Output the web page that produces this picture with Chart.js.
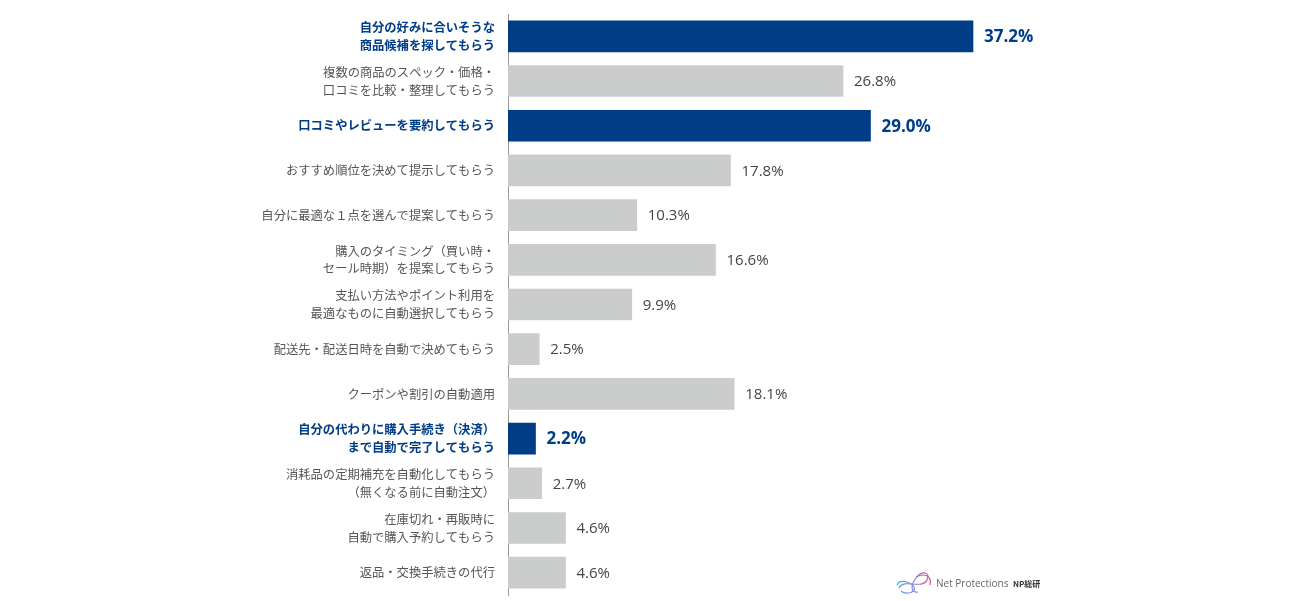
<!DOCTYPE html>
<html>
<head>
<meta charset="utf-8">
<script src="https://cdn.jsdelivr.net/npm/chart.js@4/dist/chart.umd.min.js"></script>
<style>
  body { margin: 0; background: #fff; }
  #wrap { width: 1300px; height: 601px; }
</style>
</head>
<body>
<div id="wrap"><canvas id="myChart" width="1300" height="601"></canvas></div>
<script>
const categories = [
  ['自分の好みに合いそうな', '商品候補を探してもらう'],
  ['複数の商品のスペック・価格・', '口コミを比較・整理してもらう'],
  '口コミやレビューを要約してもらう',
  'おすすめ順位を決めて提示してもらう',
  '自分に最適な１点を選んで提案してもらう',
  ['購入のタイミング（買い時・', 'セール時期）を提案してもらう'],
  ['支払い方法やポイント利用を', '最適なものに自動選択してもらう'],
  '配送先・配送日時を自動で決めてもらう',
  'クーポンや割引の自動適用',
  ['自分の代わりに購入手続き（決済）', 'まで自動で完了してもらう'],
  ['消耗品の定期補充を自動化してもらう', '（無くなる前に自動注文）'],
  ['在庫切れ・再販時に', '自動で購入予約してもらう'],
  '返品・交換手続きの代行'
];
const values = [37.2, 26.8, 29.0, 17.8, 10.3, 16.6, 9.9, 2.5, 18.1, 2.2, 2.7, 4.6, 4.6];
const highlight = [true, false, true, false, false, false, false, false, false, true, false, false, false];

const NAVY = '#003d87';
const GRAY = '#cbcccc';
const TEXT = '#555555';
const JP = '"Noto Sans CJK JP", "Noto Sans", sans-serif';

const valueLabels = {
  id: 'valueLabels',
  afterDatasetsDraw(chart) {
    const c = chart.ctx;
    const meta = chart.getDatasetMeta(0);
    c.save();
    c.textBaseline = 'middle';
    c.textAlign = 'left';
    meta.data.forEach((bar, i) => {
      if (highlight[i]) {
        c.font = 'bold 17px "Open Sans", sans-serif';
        c.fillStyle = NAVY;
      } else {
        c.font = '15px "Open Sans", sans-serif';
        c.fillStyle = '#444444';
      }
      c.fillText(values[i].toFixed(1) + '%', bar.x + 11, bar.y + 1);
    });
    c.restore();
  }
};

// small brand mark in the bottom right
const logo = {
  id: 'logo',
  afterDraw(chart) {
    const c = chart.ctx;
    c.save();
    const g = c.createLinearGradient(897, 0, 932, 0);
    g.addColorStop(0, '#3ab4e6');
    g.addColorStop(0.5, '#8a7fe0');
    g.addColorStop(1, '#e8447f');
    c.strokeStyle = g;
    c.lineWidth = 1.2;
    c.beginPath();
    c.moveTo(899, 588);
    c.bezierCurveTo(904, 578, 922, 590, 927, 580);
    c.bezierCurveTo(931, 572, 922, 570, 916, 578);
    c.bezierCurveTo(910, 586, 911, 593, 918, 592);
    c.stroke();
    c.beginPath();
    c.moveTo(897, 585);
    c.bezierCurveTo(899, 579, 910, 581, 914, 587);
    c.bezierCurveTo(917, 593, 905, 595, 901, 591);
    c.stroke();
    c.beginPath();
    c.moveTo(916, 577);
    c.bezierCurveTo(924, 573, 932, 575, 930, 585);
    c.stroke();
    c.fillStyle = '#666666';
    c.font = '10px "Open Sans", sans-serif';
    c.textBaseline = 'middle';
    c.fillText('Net Protections', 936, 584);
    c.fillStyle = '#333333';
    c.font = 'bold 8px ' + JP;
    c.fillText('NP総研', 1013, 584);
    c.restore();
  }
};

new Chart(document.getElementById('myChart'), {
  type: 'bar',
  data: {
    labels: categories,
    datasets: [{
      data: values,
      backgroundColor: highlight.map(h => h ? NAVY : GRAY),
      borderWidth: 0,
      barThickness: 31
    }]
  },
  options: {
    indexAxis: 'y',
    responsive: false,
    animation: false,
    layout: { padding: { top: 14, bottom: 6, left: 0, right: 167 } },
    plugins: {
      legend: { display: false },
      tooltip: { enabled: false }
    },
    scales: {
      x: {
        display: false,
        min: 0,
        max: 50,
        grid: { display: false }
      },
      y: {
        afterFit(scale) {
          scale.width = 508;
          scale.paddingTop = 0;
          scale.paddingBottom = 0;
        },
        grid: { display: false, drawTicks: false },
        border: { display: true, color: '#9a9a9a', width: 1 },
        ticks: {
          padding: 13,
          color: ctx => highlight[ctx.index] ? NAVY : TEXT,
          font: ctx => ({
            family: JP,
            size: 12.3,
            weight: highlight[ctx.index] ? 'bold' : 'normal',
            lineHeight: 1.45
          })
        }
      }
    }
  },
  plugins: [valueLabels, logo]
});
</script>
</body>
</html>
